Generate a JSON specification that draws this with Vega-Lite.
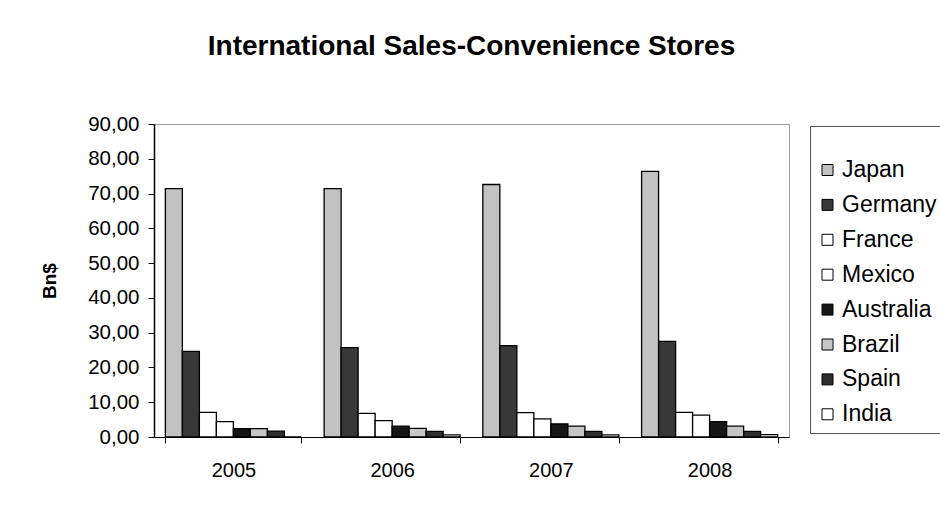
{
  "$schema": "https://vega.github.io/schema/vega-lite/v6.json",
  "width": 635,
  "height": 313,
  "autosize": {"type": "none"},
  "padding": {"left": 154, "top": 124, "right": 151, "bottom": 71},
  "background": "white",
  "title": {
    "text": "International Sales-Convenience Stores",
    "font": "Liberation Sans",
    "fontSize": 28,
    "fontWeight": "bold",
    "color": "black",
    "anchor": "middle",
    "offset": 53
  },
  "data": {
    "values": [
      {"year": "2005", "country": "Japan", "value": 71.4},
      {"year": "2005", "country": "Germany", "value": 24.6},
      {"year": "2005", "country": "France", "value": 7.1},
      {"year": "2005", "country": "Mexico", "value": 4.4},
      {"year": "2005", "country": "Australia", "value": 2.4},
      {"year": "2005", "country": "Brazil", "value": 2.4},
      {"year": "2005", "country": "Spain", "value": 1.7},
      {"year": "2005", "country": "India", "value": 0},
      {"year": "2006", "country": "Japan", "value": 71.4},
      {"year": "2006", "country": "Germany", "value": 25.7},
      {"year": "2006", "country": "France", "value": 6.8},
      {"year": "2006", "country": "Mexico", "value": 4.7},
      {"year": "2006", "country": "Australia", "value": 3.1},
      {"year": "2006", "country": "Brazil", "value": 2.5},
      {"year": "2006", "country": "Spain", "value": 1.6},
      {"year": "2006", "country": "India", "value": 0.6},
      {"year": "2007", "country": "Japan", "value": 72.6},
      {"year": "2007", "country": "Germany", "value": 26.3},
      {"year": "2007", "country": "France", "value": 7.0},
      {"year": "2007", "country": "Mexico", "value": 5.2},
      {"year": "2007", "country": "Australia", "value": 3.8},
      {"year": "2007", "country": "Brazil", "value": 3.1},
      {"year": "2007", "country": "Spain", "value": 1.6},
      {"year": "2007", "country": "India", "value": 0.6},
      {"year": "2008", "country": "Japan", "value": 76.4},
      {"year": "2008", "country": "Germany", "value": 27.5},
      {"year": "2008", "country": "France", "value": 7.1},
      {"year": "2008", "country": "Mexico", "value": 6.3},
      {"year": "2008", "country": "Australia", "value": 4.4},
      {"year": "2008", "country": "Brazil", "value": 3.1},
      {"year": "2008", "country": "Spain", "value": 1.6},
      {"year": "2008", "country": "India", "value": 0.7}
    ]
  },
  "mark": {"type": "bar", "stroke": "black", "strokeWidth": 1.3},
  "encoding": {
    "x": {
      "field": "year",
      "type": "nominal",
      "scale": {"paddingInner": 0.143, "paddingOuter": 0.0716},
      "axis": {
        "title": null,
        "labelAngle": 0,
        "tickBand": "extent",
        "tickSize": 6,
        "tickColor": "black",
        "domainColor": "black",
        "domainWidth": 1.2,
        "labelPadding": 17,
        "labelFont": "Liberation Sans",
        "labelFontSize": 20,
        "labelColor": "black"
      }
    },
    "xOffset": {
      "field": "country",
      "type": "nominal",
      "scale": {
        "domain": ["Japan", "Germany", "France", "Mexico", "Australia", "Brazil", "Spain", "India"],
        "paddingInner": 0,
        "paddingOuter": 0
      }
    },
    "y": {
      "field": "value",
      "type": "quantitative",
      "scale": {"domain": [0, 90]},
      "axis": {
        "title": "Bn$",
        "titleFont": "Liberation Sans",
        "titleFontSize": 19,
        "titleFontWeight": "bold",
        "titleColor": "black",
        "titlePadding": 28,
        "values": [0, 10, 20, 30, 40, 50, 60, 70, 80, 90],
        "format": ".2f",
        "grid": false,
        "tickSize": 6,
        "tickColor": "black",
        "domainColor": "black",
        "domainWidth": 1.5,
        "labelPadding": 9,
        "labelFont": "Liberation Sans",
        "labelFontSize": 20.5,
        "labelColor": "black"
      }
    },
    "color": {
      "field": "country",
      "type": "nominal",
      "scale": {
        "domain": ["Japan", "Germany", "France", "Mexico", "Australia", "Brazil", "Spain", "India"],
        "range": ["#c2c2c2", "#383838", "#ffffff", "#ffffff", "#161616", "#c6c6c6", "#2e2e2e", "#ffffff"]
      },
      "legend": {
        "orient": "none",
        "legendX": 656,
        "legendY": 2,
        "title": " ",
        "titleFontSize": 1,
        "titlePadding": 25.5,
        "symbolType": "square",
        "symbolSize": 121,
        "symbolStrokeColor": "black",
        "symbolStrokeWidth": 1,
        "labelFont": "Liberation Sans",
        "labelFontSize": 23,
        "labelColor": "black",
        "labelOffset": 3,
        "rowPadding": 10.9,
        "padding": 6,
        "strokeColor": "#555555",
        "fillColor": "white"
      }
    }
  },
  "config": {
    "locale": {
      "number": {"decimal": ",", "thousands": ".", "grouping": [3], "currency": ["", " $"]}
    },
    "view": {"stroke": "#9a9a9a", "strokeWidth": 1}
  }
}
